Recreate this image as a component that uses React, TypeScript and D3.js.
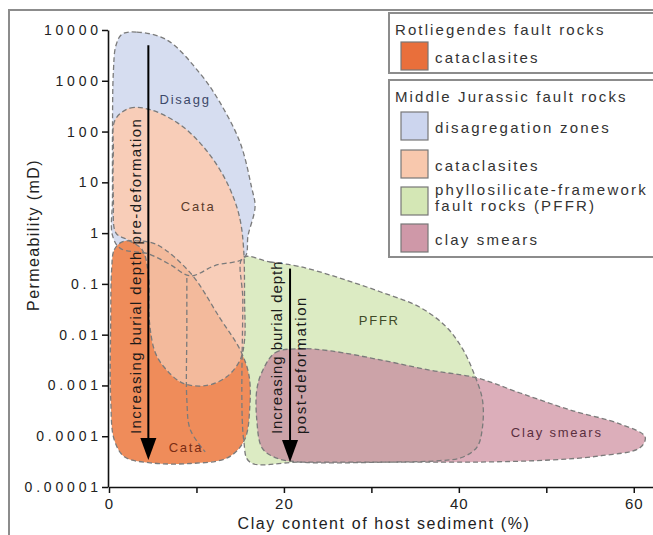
import { type RefObject, useEffect, useRef } from "react";
import * as d3 from "d3";

// [clay content %, permeability mD]
type Pt = [number, number];

const width = 653;
const height = 535;

// outlines of the fault rock fields
const disaggZones: Pt[] = [
  [1.5, 8300], [3.2, 9100], [6.6, 6400], [10.4, 1400], [12.7, 370], [15.0, 60],
  [16.3, 8], [16.7, 3.3], [15.9, 0.9], [15.5, 0.33], [12.1, 0.23], [9.3, 0.144],
  [7.0, 0.24], [4.5, 0.39], [1.3, 0.5], [0.4, 0.9], [0.4, 5], [0.4, 100],
  [0.5, 1500], [0.8, 5000],
];

const jurassicCata: Pt[] = [
  [0.7, 170], [2.4, 290], [4.7, 270], [7.8, 150], [10.4, 60], [12.7, 17.5],
  [14.2, 5.2], [15.0, 1.8], [15.4, 0.47], [15.5, 0.048], [15.5, 0.0079],
  [15.0, 0.0032], [13.5, 0.0015], [11.2, 0.001], [8.5, 0.0011], [6.6, 0.002],
  [5.3, 0.0044], [4.6, 0.0195], [4.5, 0.15], [3.8, 0.47], [2.2, 0.73],
  [0.8, 1.0], [0.5, 4.5], [0.5, 43],
];

const rotliegendesCata: Pt[] = [
  [0.3, 0.19], [0.6, 0.47], [1.5, 0.67], [3.5, 0.7], [5.5, 0.59], [9.3, 0.165],
  [12.7, 0.021], [15.0, 0.005], [16.0, 0.0016], [16.1, 0.00038], [15.5, 0.000085],
  [13.6, 0.000038], [9.3, 0.000029], [4.7, 0.00003], [1.8, 0.000039],
  [0.6, 0.000085], [0.2, 0.00052], [0.2, 0.0195],
];

const pffr: Pt[] = [
  [15.3, 0.33], [18.4, 0.27], [21.8, 0.22], [26.4, 0.13], [31.0, 0.07],
  [35.5, 0.035], [38.6, 0.014], [40.5, 0.005], [41.8, 0.0016], [42.7, 0.00052],
  [42.7, 0.00015], [42.1, 0.000062], [40.5, 0.000039], [37.8, 0.000033],
  [21.8, 0.000031], [16.1, 0.000031], [15.4, 0.000085], [15.3, 0.048],
];

const claySmears: Pt[] = [
  [17.5, 0.00185], [19.0, 0.0044], [21.8, 0.0053], [25.3, 0.0048], [31.0, 0.0032],
  [36.7, 0.002], [42.1, 0.0014], [47.0, 0.00071], [52.7, 0.00033], [58.4, 0.000175],
  [61.3, 0.000097], [60.7, 0.000059], [56.1, 0.000041], [50.4, 0.000034],
  [42.4, 0.000031], [33.3, 0.000031], [21.8, 0.000031], [19.0, 0.000038],
  [17.5, 0.000059], [16.9, 0.00021], [16.9, 0.00082],
];

// inner dashed boundary inside the Rotliegendes field
const innerBoundary: Pt[] = [
  [8.9, 0.131], [8.9, 0.012], [8.9, 0.00052], [9.3, 0.000134], [11.0, 0.000049],
];

const regionLabels = ["Disagg", "Cata", "Cata", "PFFR", "Clay smears"];
const regionLabelAt: Pt[] = [
  [8.7, 420], [10.2, 3.3], [8.8, 0.00006], [30.9, 0.019], [51.2, 0.00012],
];

const arrowClay = [4.5, 20.7];
const arrowFrom = [5000, 0.2];
const arrowTo = [3.4e-5, 3.1e-5];
const arrowText = [
  ["Increasing burial depth pre-deformation"],
  ["Increasing burial depth", "post-deformation"],
];

const permTicks = [1e-5, 1e-4, 1e-3, 0.01, 0.1, 1, 10, 100, 1000, 10000];
const permTickLabels = [
  "0.00001", "0.0001", "0.001", "0.01", "0.1", "1", "10", "100", "1000", "10000",
];
const clayTicks = [0, 10, 20, 30, 40, 50, 60];
const clayTickLabels = ["0", "", "20", "", "40", "", "60"];

const legendGroups = ["Rotliegendes fault rocks", "Middle Jurassic fault rocks"];
const legendItems = [
  [["cataclasites"]],
  [
    ["disagregation zones"],
    ["cataclasites"],
    ["phyllosilicate-framework", "fault rocks (PFFR)"],
    ["clay smears"],
  ],
];

const font = "'Liberation Sans', Arial, Helvetica, sans-serif";
const fill = {
  disagg: "#d6ddf0",
  jurCata: "#f8cdb8",
  rotCata: "#ef8c5a",
  pffr: "#dcebc3",
  clay: "#dcaeba",
  cataOverlap: "#f3ba9c",
  clayOverlap: "#cca3a8",
};
const swatch = [["#e96f3b"], ["#ccd5ee", "#f8c8ad", "#d4e7b5", "#cf98a8"]];
const labelColors = ["#3c4869", "#5b3b2b", "#7a2c14", "#3f4a28", "#5a2f3f"];

const drawChart = (svgRef: RefObject<SVGSVGElement>) => {
  const svg = d3
    .select(svgRef.current)
    .attr("width", width)
    .attr("height", height)
    .style("font-family", font);

  const x = d3.scaleLinear().domain([0, 62.2]).range([109, 653]);
  const y = d3.scaleLog().domain([1e-5, 1e4]).range([487, 30]);

  const shape = d3
    .line<Pt>()
    .x((d) => x(d[0]))
    .y((d) => y(d[1]))
    .curve(d3.curveCatmullRomClosed.alpha(0.5));
  const openLine = d3
    .line<Pt>()
    .x((d) => x(d[0]))
    .y((d) => y(d[1]))
    .curve(d3.curveCatmullRom.alpha(0.5));

  svg.append("rect").attr("width", width).attr("height", height).attr("fill", "#fff");
  svg
    .append("rect")
    .attr("x", 9)
    .attr("y", 10)
    .attr("width", 700)
    .attr("height", 600)
    .attr("fill", "none")
    .attr("stroke", "#8c8c8c")
    .attr("stroke-width", 2);

  const defs = svg.append("defs");
  defs.append("clipPath").attr("id", "clip-jurcata").append("path").attr("d", shape(jurassicCata));
  defs.append("clipPath").attr("id", "clip-pffr").append("path").attr("d", shape(pffr));

  const fields = svg.append("g");
  fields.append("path").attr("d", shape(disaggZones)).attr("fill", fill.disagg);
  fields.append("path").attr("d", shape(pffr)).attr("fill", fill.pffr);
  fields.append("path").attr("d", shape(claySmears)).attr("fill", fill.clay);
  fields
    .append("path")
    .attr("d", shape(claySmears))
    .attr("fill", fill.clayOverlap)
    .attr("clip-path", "url(#clip-pffr)");
  fields.append("path").attr("d", shape(rotliegendesCata)).attr("fill", fill.rotCata);
  fields.append("path").attr("d", shape(jurassicCata)).attr("fill", fill.jurCata);
  fields
    .append("path")
    .attr("d", shape(rotliegendesCata))
    .attr("fill", fill.cataOverlap)
    .attr("clip-path", "url(#clip-jurcata)");

  const outlines = svg
    .append("g")
    .attr("fill", "none")
    .attr("stroke", "#7b7b7b")
    .attr("stroke-width", 1.3)
    .attr("stroke-dasharray", "5,3");
  [disaggZones, jurassicCata, rotliegendesCata, pffr, claySmears].forEach((pts) => {
    outlines.append("path").attr("d", shape(pts));
  });
  outlines.append("path").attr("d", openLine(innerBoundary));

  // burial depth arrows
  const arrows = svg.append("g");
  arrowClay.forEach((c, i) => {
    const ax = x(c);
    const tip = y(arrowTo[i]);
    arrows
      .append("line")
      .attr("x1", ax)
      .attr("x2", ax)
      .attr("y1", y(arrowFrom[i]))
      .attr("y2", tip - 12)
      .attr("stroke", "#000")
      .attr("stroke-width", 2);
    arrows
      .append("path")
      .attr("d", `M${ax},${tip}L${ax - 8},${tip - 22}L${ax + 8},${tip - 22}Z`)
      .attr("fill", "#000");
    const ty = y(1.1e-4);
    const offsets = i === 0 ? [-7] : [-8, 16];
    const spacing = i === 0 ? [1.4] : [0.95, 1.6];
    arrowText[i].forEach((t, j) => {
      arrows
        .append("text")
        .attr("transform", `translate(${ax + offsets[j]},${ty}) rotate(-90)`)
        .attr("font-size", 15)
        .attr("letter-spacing", spacing[j])
        .attr("fill", "#1a1a1a")
        .text(t);
    });
  });

  svg
    .append("g")
    .selectAll("text")
    .data(regionLabels)
    .enter()
    .append("text")
    .attr("x", (_, i) => x(regionLabelAt[i][0]))
    .attr("y", (_, i) => y(regionLabelAt[i][1]))
    .attr("text-anchor", "middle")
    .attr("dominant-baseline", "central")
    .attr("font-size", 13)
    .attr("letter-spacing", 1.8)
    .attr("fill", (_, i) => labelColors[i])
    .text((d) => d);

  // axes
  const gy = svg
    .append("g")
    .attr("transform", `translate(${x(0) - 1},0)`)
    .call(
      d3
        .axisLeft(y)
        .tickValues(permTicks)
        .tickFormat((_, i) => permTickLabels[i])
        .tickSize(6)
        .tickSizeOuter(0)
        .tickPadding(4)
    );
  gy.selectAll("text")
    .attr("font-size", 14)
    .attr("font-family", font)
    .attr("letter-spacing", 3.8)
    .attr("dx", 3.8)
    .attr("fill", "#222");

  const gx = svg
    .append("g")
    .attr("transform", `translate(0,${y(1e-5)})`)
    .call(
      d3
        .axisBottom(x)
        .tickValues(clayTicks)
        .tickFormat((_, i) => clayTickLabels[i])
        .tickSize(6)
        .tickSizeOuter(0)
        .tickPadding(5)
    );
  gx.selectAll("text")
    .attr("font-size", 15)
    .attr("font-family", font)
    .attr("letter-spacing", 1)
    .attr("fill", "#222");
  [gx, gy].forEach((g) => {
    g.select(".domain").attr("stroke-width", 1.6).attr("stroke", "#111");
    g.selectAll(".tick line").attr("stroke-width", 1.5).attr("stroke", "#111");
  });

  svg
    .append("text")
    .attr("x", 384)
    .attr("y", 529)
    .attr("text-anchor", "middle")
    .attr("font-size", 16)
    .attr("letter-spacing", 1.6)
    .attr("fill", "#222")
    .text("Clay content of host sediment (%)");
  svg
    .append("text")
    .attr("transform", "translate(39,235) rotate(-90)")
    .attr("text-anchor", "middle")
    .attr("font-size", 16)
    .attr("letter-spacing", 1.4)
    .attr("fill", "#222")
    .text("Permeability (mD)");

  // legend
  const legend = svg.append("g").attr("font-size", 15).attr("fill", "#333");
  const boxTop = [13, 80];
  const boxHeight = [60, 177];
  const rowTop = [[42], [112, 150, 187, 224]];
  legendGroups.forEach((g, gi) => {
    legend
      .append("rect")
      .attr("x", 389)
      .attr("y", boxTop[gi])
      .attr("width", 300)
      .attr("height", boxHeight[gi])
      .attr("fill", "#fff")
      .attr("stroke", "#8c8c8c")
      .attr("stroke-width", 2);
    legend
      .append("text")
      .attr("x", 395)
      .attr("y", boxTop[gi] + 22)
      .attr("letter-spacing", 2.1)
      .text(g);
    legendItems[gi].forEach((lines, k) => {
      const top = rowTop[gi][k];
      legend
        .append("rect")
        .attr("x", 401)
        .attr("y", top)
        .attr("width", 27)
        .attr("height", 28)
        .attr("fill", swatch[gi][k])
        .attr("stroke", "#777")
        .attr("stroke-width", 1.2);
      lines.forEach((t, j) => {
        legend
          .append("text")
          .attr("x", 435)
          .attr("y", top + (lines.length > 1 ? 8 + j * 16 : 21))
          .attr("letter-spacing", 2.2)
          .text(t);
      });
    });
  });
};

const clearChart = (svgRef: RefObject<SVGSVGElement>) => {
  d3.select(svgRef.current).selectAll("*").remove();
};

const App = () => {
  const svgRef = useRef<SVGSVGElement>(null);

  useEffect(() => {
    document.body.style.margin = "0";
    drawChart(svgRef);
    return () => {
      clearChart(svgRef);
    };
  }, [svgRef]);

  return <svg ref={svgRef} style={{ display: "block" }}></svg>;
};

export default App;
